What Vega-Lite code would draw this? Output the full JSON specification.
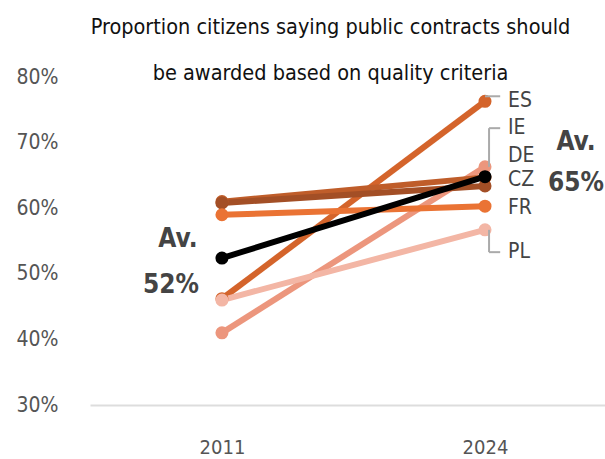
{
  "$schema": "https://vega.github.io/schema/vega-lite/v6.json",
  "width": 515,
  "height": 328,
  "autosize": {"type": "none"},
  "padding": {"left": 90, "top": 77, "right": 0, "bottom": 54},
  "background": "white",
  "title": {
    "text": ["Proportion citizens saying public contracts should", "be awarded based on quality criteria"],
    "anchor": "middle",
    "dx": -17,
    "fontSize": 21.5,
    "fontWeight": "normal",
    "lineHeight": 46,
    "color": "#111111",
    "font": "DejaVu Sans Condensed, sans-serif",
    "offset": -18
  },
  "config": {
    "view": {"stroke": null},
    "font": "DejaVu Sans Condensed, sans-serif"
  },
  "data": {
    "values": [
      {"country": "ES", "year": 2011, "value": 46.2},
      {"country": "ES", "year": 2024, "value": 76.3},
      {"country": "IE", "year": 2011, "value": 41.0},
      {"country": "IE", "year": 2024, "value": 66.3},
      {"country": "DE", "year": 2011, "value": 61.0},
      {"country": "DE", "year": 2024, "value": 64.7},
      {"country": "CZ", "year": 2011, "value": 60.8},
      {"country": "CZ", "year": 2024, "value": 63.4},
      {"country": "FR", "year": 2011, "value": 59.0},
      {"country": "FR", "year": 2024, "value": 60.3},
      {"country": "PL", "year": 2011, "value": 46.0},
      {"country": "PL", "year": 2024, "value": 56.7},
      {"country": "Av.", "year": 2011, "value": 52.4},
      {"country": "Av.", "year": 2024, "value": 64.8}
    ]
  },
  "encoding": {
    "x": {
      "field": "year", "type": "quantitative",
      "scale": {"domain": [2004.48, 2029.93], "nice": false, "zero": false},
      "axis": {
        "title": null, "values": [2011, 2024], "format": "d", "ticks": false, "grid": false,
        "domain": true, "domainColor": "#dddddd", "domainWidth": 2,
        "labelFontSize": 20, "labelColor": "#555555", "labelPadding": 42, "labelBaseline": "middle"
      }
    },
    "y": {
      "field": "value", "type": "quantitative",
      "scale": {"domain": [30, 80], "nice": false, "zero": false},
      "axis": {
        "title": null, "values": [30, 40, 50, 60, 70, 80], "labelExpr": "datum.value + '%'",
        "ticks": false, "grid": false, "domain": false,
        "labelFontSize": 21, "labelColor": "#555555", "labelPadding": 32
      }
    },
    "color": {
      "field": "country", "type": "nominal", "legend": null,
      "scale": {
        "domain": ["ES", "IE", "DE", "CZ", "FR", "PL", "Av."],
        "range": ["#d4642b", "#ec967d", "#bf5d2a", "#a34f26", "#ea7334", "#f3b6a5", "#000000"]
      }
    }
  },
  "layer": [
    {
      "transform": [{"filter": "datum.country !== 'Av.'"}],
      "mark": {"type": "line", "strokeWidth": 6}
    },
    {
      "transform": [{"filter": "datum.country !== 'Av.'"}],
      "mark": {"type": "point", "filled": true, "size": 170, "opacity": 1}
    },
    {
      "transform": [{"filter": "datum.country === 'Av.'"}],
      "mark": {"type": "line", "strokeWidth": 6}
    },
    {
      "transform": [{"filter": "datum.country === 'Av.'"}],
      "mark": {"type": "point", "filled": true, "size": 170, "opacity": 1}
    },
    {
      "transform": [{"filter": "datum.country === 'ES' && datum.year === 2024"}],
      "mark": {"type": "rule", "strokeWidth": 2, "yOffset": -5},
      "encoding": {"x2": {"datum": 2024.75}, "color": {"value": "#aaaaaa"}}
    },
    {
      "transform": [{"filter": "datum.country === 'IE' && datum.year === 2024"}],
      "mark": {"type": "rule", "strokeWidth": 2},
      "encoding": {"x": {"datum": 2024.2}, "y2": {"datum": 72.2}, "color": {"value": "#aaaaaa"}}
    },
    {
      "transform": [{"filter": "datum.country === 'IE' && datum.year === 2024"}],
      "mark": {"type": "rule", "strokeWidth": 2},
      "encoding": {"x": {"datum": 2024.2}, "x2": {"datum": 2024.75}, "y": {"datum": 72.2}, "color": {"value": "#aaaaaa"}}
    },
    {
      "transform": [{"filter": "datum.country === 'PL' && datum.year === 2024"}],
      "mark": {"type": "rule", "strokeWidth": 2},
      "encoding": {"x": {"datum": 2024.2}, "y2": {"datum": 53.3}, "color": {"value": "#aaaaaa"}}
    },
    {
      "transform": [{"filter": "datum.country === 'PL' && datum.year === 2024"}],
      "mark": {"type": "rule", "strokeWidth": 2},
      "encoding": {"x": {"datum": 2024.2}, "x2": {"datum": 2024.75}, "y": {"datum": 53.3}, "color": {"value": "#aaaaaa"}}
    },
    {
      "transform": [{"filter": "datum.country === 'ES' && datum.year === 2024"}],
      "mark": {"type": "text", "align": "left", "baseline": "middle", "dx": 23, "dy": 0, "fontSize": 21},
      "encoding": {"text": {"field": "country"}, "color": {"value": "#444444"}}
    },
    {
      "transform": [{"filter": "datum.country === 'IE' && datum.year === 2024"}],
      "mark": {"type": "text", "align": "left", "baseline": "middle", "dx": 23, "dy": -39, "fontSize": 21},
      "encoding": {"text": {"field": "country"}, "color": {"value": "#444444"}}
    },
    {
      "transform": [{"filter": "datum.country === 'DE' && datum.year === 2024"}],
      "mark": {"type": "text", "align": "left", "baseline": "middle", "dx": 23, "dy": -21, "fontSize": 21},
      "encoding": {"text": {"field": "country"}, "color": {"value": "#444444"}}
    },
    {
      "transform": [{"filter": "datum.country === 'CZ' && datum.year === 2024"}],
      "mark": {"type": "text", "align": "left", "baseline": "middle", "dx": 23, "dy": -6, "fontSize": 21},
      "encoding": {"text": {"field": "country"}, "color": {"value": "#444444"}}
    },
    {
      "transform": [{"filter": "datum.country === 'FR' && datum.year === 2024"}],
      "mark": {"type": "text", "align": "left", "baseline": "middle", "dx": 23, "dy": 2, "fontSize": 21},
      "encoding": {"text": {"field": "country"}, "color": {"value": "#444444"}}
    },
    {
      "transform": [{"filter": "datum.country === 'PL' && datum.year === 2024"}],
      "mark": {"type": "text", "align": "left", "baseline": "middle", "dx": 23, "dy": 22, "fontSize": 21},
      "encoding": {"text": {"field": "country"}, "color": {"value": "#444444"}}
    },
    {
      "transform": [{"filter": "datum.country === 'Av.' && datum.year === 2011"}],
      "mark": {"type": "text", "align": "center", "baseline": "middle", "dx": -44, "dy": -19, "fontSize": 26, "fontWeight": "bold"},
      "encoding": {"text": {"field": "country"}, "color": {"value": "#444444"}}
    },
    {
      "transform": [{"filter": "datum.country === 'Av.' && datum.year === 2011"}, {"calculate": "format(datum.value, '.0f') + '%'", "as": "lab"}],
      "mark": {"type": "text", "align": "center", "baseline": "middle", "dx": -51, "dy": 27, "fontSize": 26, "fontWeight": "bold"},
      "encoding": {"text": {"field": "lab"}, "color": {"value": "#444444"}}
    },
    {
      "transform": [{"filter": "datum.country === 'Av.' && datum.year === 2024"}],
      "mark": {"type": "text", "align": "center", "baseline": "middle", "dx": 91, "dy": -35, "fontSize": 26, "fontWeight": "bold"},
      "encoding": {"text": {"field": "country"}, "color": {"value": "#444444"}}
    },
    {
      "transform": [{"filter": "datum.country === 'Av.' && datum.year === 2024"}, {"calculate": "format(datum.value, '.0f') + '%'", "as": "lab"}],
      "mark": {"type": "text", "align": "center", "baseline": "middle", "dx": 91, "dy": 6, "fontSize": 26, "fontWeight": "bold"},
      "encoding": {"text": {"field": "lab"}, "color": {"value": "#444444"}}
    }
  ]
}
